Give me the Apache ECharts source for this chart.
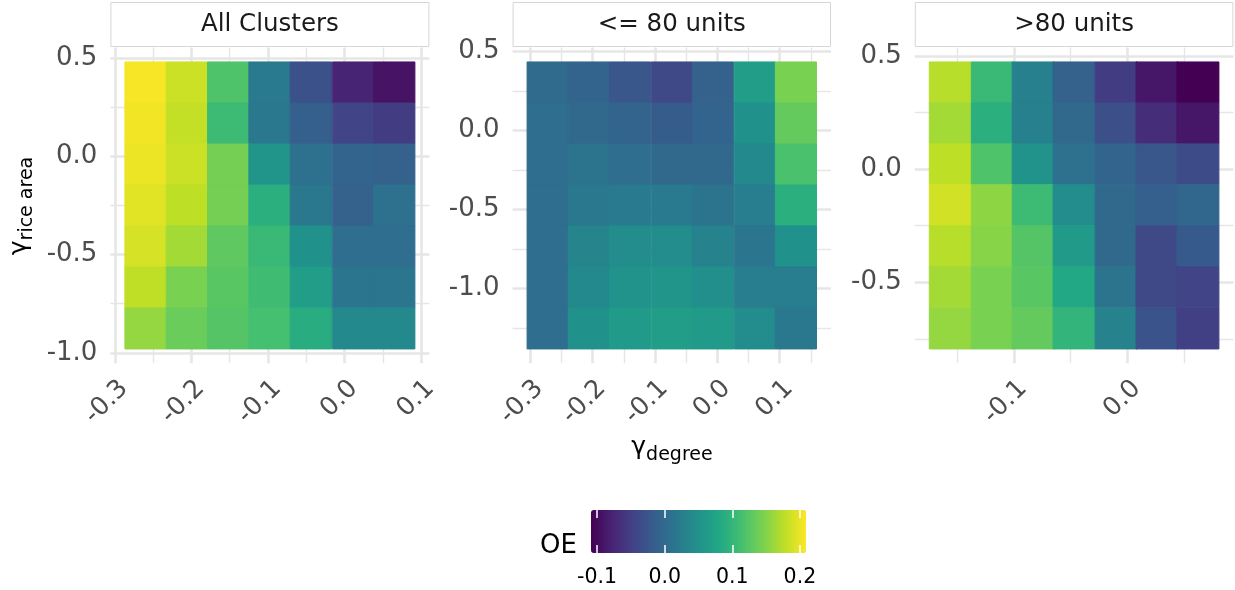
<!DOCTYPE html>
<html>
<head>
<meta charset="utf-8">
<script src="https://cdn.jsdelivr.net/npm/echarts@6/dist/echarts.min.js"></script>
<style>
html,body{margin:0;padding:0;background:#fff;}
#chart{width:1235px;height:590px;}
</style>
</head>
<body>
<div id="chart"></div>
<script>
// ---------------- DATA ----------------
const panelTitles = ['All Clusters', '<= 80 units', '>80 units'];

// gamma_degree (x) tile centres per panel
const xAll   = [-0.260, -0.206, -0.152, -0.098, -0.044, 0.011, 0.065];
const xSmall = [-0.272, -0.206, -0.140, -0.073, -0.007, 0.060, 0.126];
const xLarge = [-0.156, -0.119, -0.083, -0.047, -0.010, 0.026, 0.062];

// gamma_rice_area (y) tile centres per panel, top to bottom
const yAll   = [0.376, 0.167, -0.042, -0.251, -0.459, -0.668, -0.876];
const ySmall = [0.305, 0.045, -0.215, -0.475, -0.734, -0.994, -1.254];
const yLarge = [0.383, 0.202, 0.021, -0.160, -0.341, -0.522, -0.704];

// OE values: rows follow y (top to bottom), columns follow x (left to right)
const oeAll = [
  [0.206, 0.184, 0.120, 0.021, -0.030, -0.077, -0.093],
  [0.203, 0.180, 0.107, 0.018, -0.014, -0.045, -0.052],
  [0.200, 0.184, 0.142, 0.056, 0.009, -0.007, -0.010],
  [0.195, 0.177, 0.142, 0.091, 0.018, -0.010, 0.009],
  [0.189, 0.165, 0.130, 0.104, 0.050, 0.005, 0.005],
  [0.178, 0.145, 0.126, 0.110, 0.066, 0.015, 0.015],
  [0.158, 0.136, 0.123, 0.114, 0.088, 0.040, 0.040]
];
const oeSmall = [
  [0.002, -0.007, -0.023, -0.039, -0.010, 0.066, 0.145],
  [0.005, -0.001, -0.007, -0.017, -0.007, 0.050, 0.133],
  [0.005, 0.012, 0.005, -0.001, -0.001, 0.040, 0.117],
  [0.005, 0.018, 0.021, 0.021, 0.012, 0.025, 0.091],
  [0.005, 0.034, 0.044, 0.044, 0.031, 0.015, 0.050],
  [0.005, 0.040, 0.053, 0.056, 0.047, 0.025, 0.025],
  [0.005, 0.050, 0.063, 0.066, 0.063, 0.044, 0.018]
];
const oeLarge = [
  [0.174, 0.104, 0.028, -0.010, -0.052, -0.090, -0.109],
  [0.165, 0.091, 0.028, -0.001, -0.033, -0.068, -0.090],
  [0.177, 0.120, 0.053, 0.009, -0.007, -0.023, -0.036],
  [0.187, 0.155, 0.107, 0.044, -0.001, -0.014, -0.004],
  [0.174, 0.152, 0.123, 0.063, -0.001, -0.039, -0.020],
  [0.165, 0.145, 0.126, 0.082, 0.012, -0.039, -0.045],
  [0.158, 0.145, 0.133, 0.098, 0.031, -0.026, -0.049]
];

// axis tick labels (major) and minor grid values per panel
const xMajorAll = [-0.3, -0.2, -0.1, 0.0, 0.1];
const xMinorAll = [-0.25, -0.15, -0.05, 0.05];
const yMajorAll = [0.5, 0.0, -0.5, -1.0];
const yMinorAll = [0.25, -0.25, -0.75];
const xMajorSmall = [-0.3, -0.2, -0.1, 0.0, 0.1];
const xMinorSmall = [-0.25, -0.15, -0.05, 0.05, 0.15];
const yMajorSmall = [0.5, 0.0, -0.5, -1.0];
const yMinorSmall = [0.25, -0.25, -0.75, -1.25];
const xMajorLarge = [-0.1, 0.0];
const xMinorLarge = [-0.15, -0.05, 0.05];
const yMajorLarge = [0.5, 0.0, -0.5];
const yMinorLarge = [0.25, -0.25, -0.75];

// colour scale
const oeMin = -0.109;
const oeMax = 0.209;
const oeBreaks = [-0.1, 0.0, 0.1, 0.2];
// ---------------------------------------

const VIRIDIS = ['#440154','#482475','#414487','#355f8d','#2a788e','#21918c','#22a884','#44bf70','#7ad151','#bddf26','#fde725'];
const FONT = 'DejaVu Sans';

const panels = [
  {x: xAll, y: yAll, z: oeAll, xMaj: xMajorAll, xMin: xMinorAll, yMaj: yMajorAll, yMin: yMinorAll},
  {x: xSmall, y: ySmall, z: oeSmall, xMaj: xMajorSmall, xMin: xMinorSmall, yMaj: yMajorSmall, yMin: yMinorSmall},
  {x: xLarge, y: yLarge, z: oeLarge, xMaj: xMajorLarge, xMin: xMinorLarge, yMaj: yMajorLarge, yMin: yMinorLarge}
];

// pixel layout of the panels
const gridBoxes = [
  {left: 110.4, width: 319.0},
  {left: 512.6, width: 318.4},
  {left: 914.8, width: 318.6}
];
const GRID_TOP = 47.6, GRID_H = 315.7;

function extent(vals) {
  const step = Math.abs(vals[1] - vals[0]);
  const lo = Math.min(...vals) - step / 2;
  const hi = Math.max(...vals) + step / 2;
  const pad = (hi - lo) * 0.05;
  return {min: lo - pad, max: hi + pad, step: step};
}

function renderTile(params, api) {
  const x = api.value(0), y = api.value(1), w = api.value(3), h = api.value(4);
  const p1 = api.coord([x - w / 2, y + h / 2]);
  const p2 = api.coord([x + w / 2, y - h / 2]);
  const c = api.visual('color');
  return {
    type: 'rect',
    shape: {x: p1[0], y: p1[1], width: p2[0] - p1[0], height: p2[1] - p1[1]},
    style: {fill: c, stroke: c, lineWidth: 1}
  };
}

const grids = [], xAxes = [], yAxes = [], series = [];
const fmt = v => (Math.abs(v) < 1e-9 ? 0 : v).toFixed(1);

panels.forEach((p, i) => {
  const ex = extent(p.x), ey = extent(p.y);
  grids.push({left: gridBoxes[i].left, width: gridBoxes[i].width, top: GRID_TOP, height: GRID_H, containLabel: false});
  xAxes.push({
    type: 'value', gridIndex: i, min: ex.min, max: ex.max,
    axisLine: {show: false}, axisTick: {show: false}, splitLine: {show: false},
    axisLabel: {customValues: p.xMaj, formatter: fmt, rotate: 45, margin: 12, verticalAlign: 'top',
      fontSize: 25.5, color: '#4d4d4d', fontFamily: FONT}
  });
  yAxes.push({
    type: 'value', gridIndex: i, min: ey.min, max: ey.max,
    axisLine: {show: false}, axisTick: {show: false}, splitLine: {show: false},
    axisLabel: {customValues: p.yMaj, formatter: fmt, margin: 13,
      fontSize: 26, color: '#4d4d4d', fontFamily: FONT}
  });
  const data = [];
  p.y.forEach((yv, r) => {
    p.x.forEach((xv, c) => {
      data.push([xv, yv, p.z[r][c], ex.step, ey.step]);
    });
  });
  const lines = [];
  p.xMin.forEach(v => lines.push({xAxis: v, lineStyle: {width: 1.4}}));
  p.yMin.forEach(v => lines.push({yAxis: v, lineStyle: {width: 1.4}}));
  p.xMaj.forEach(v => lines.push({xAxis: v, lineStyle: {width: 2.6}}));
  p.yMaj.forEach(v => lines.push({yAxis: v, lineStyle: {width: 2.6}}));
  series.push({
    type: 'custom', name: panelTitles[i], xAxisIndex: i, yAxisIndex: i,
    renderItem: renderTile, data: data, z: 10, silent: true,
    encode: {x: 0, y: 1},
    markLine: {
      z: 1, silent: true, symbol: ['none', 'none'], animation: false,
      label: {show: false}, emphasis: {disabled: true},
      lineStyle: {color: '#e6e6e6', type: 'solid'},
      data: lines
    }
  });
});

// colour bar axes (ticks + labels)
grids.push({left: 591, width: 215, top: 510, height: 43});
xAxes.push({
  type: 'value', gridIndex: 3, min: oeMin, max: oeMax, z: 10, position: 'bottom',
  axisLine: {show: false}, splitLine: {show: false},
  axisTick: {show: true, inside: true, length: 8, customValues: oeBreaks, lineStyle: {color: '#ffffff', width: 1.5}},
  axisLabel: {customValues: oeBreaks, formatter: fmt, margin: 14, fontSize: 20.5, color: '#000000', fontFamily: FONT}
});
xAxes.push({
  type: 'value', gridIndex: 3, min: oeMin, max: oeMax, z: 10, position: 'top',
  axisLine: {show: false}, splitLine: {show: false},
  axisTick: {show: true, inside: true, length: 8, customValues: oeBreaks, lineStyle: {color: '#ffffff', width: 1.5}},
  axisLabel: {show: false}
});
yAxes.push({type: 'value', gridIndex: 3, min: 0, max: 1, show: false});

const stripGraphics = gridBoxes.map((g, i) => ({
  type: 'group',
  children: [
    {type: 'rect', shape: {x: g.left + 0.5, y: 2.5, width: g.width - 1, height: 44},
     style: {fill: '#ffffff', stroke: '#d6d6d6', lineWidth: 1}},
    {type: 'text', x: g.left + g.width / 2, y: 25,
     style: {text: panelTitles[i], fontSize: 24.5, fontFamily: FONT, fill: '#1a1a1a', align: 'center', verticalAlign: 'middle'}}
  ]
}));

const option = {
  backgroundColor: '#ffffff',
  animation: false,
  grid: grids,
  xAxis: xAxes,
  yAxis: yAxes,
  visualMap: {
    type: 'continuous', min: oeMin, max: oeMax, dimension: 2, seriesIndex: [0, 1, 2],
    orient: 'horizontal', left: 591, top: 510, itemWidth: 43, itemHeight: 215,
    padding: 0, text: null, calculable: false, hoverLink: false, showLabel: false,
    inRange: {color: VIRIDIS}, z: 2
  },
  series: series,
  graphic: stripGraphics.concat([
    {type: 'text', x: 22, y: 206, rotation: Math.PI / 2,
     style: {text: '{g|γ}{s|rice area}', align: 'center', verticalAlign: 'middle',
       rich: {g: {fontSize: 25, fontFamily: FONT, fill: '#000', verticalAlign: 'bottom', padding: [0, 0, 5, 0]},
              s: {fontSize: 19, fontFamily: FONT, fill: '#000', verticalAlign: 'bottom'}}}},
    {type: 'text', x: 672, y: 450,
     style: {text: '{g|γ}{s|degree}', align: 'center', verticalAlign: 'middle',
       rich: {g: {fontSize: 25, fontFamily: FONT, fill: '#000', verticalAlign: 'bottom', padding: [0, 0, 5, 0]},
              s: {fontSize: 19, fontFamily: FONT, fill: '#000', verticalAlign: 'bottom'}}}},
    {type: 'text', x: 540, y: 559,
     style: {text: 'OE', fontSize: 26, fontFamily: FONT, fill: '#000', align: 'left', verticalAlign: 'bottom'}}
  ])
};

const chart = echarts.init(document.getElementById('chart'), null, {renderer: 'canvas'});
chart.setOption(option);
</script>
</body>
</html>
